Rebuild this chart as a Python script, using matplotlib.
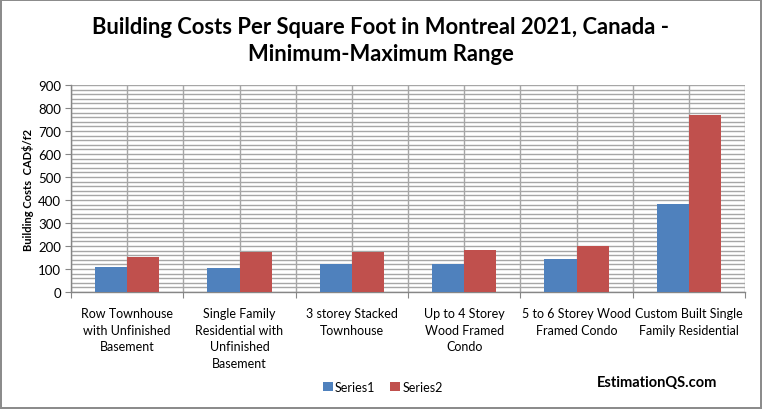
import numpy as np
import matplotlib
matplotlib.use("Agg")
from matplotlib import pyplot as plt

plt.rcParams['font.family'] = ['Lato', 'DejaVu Sans']

categories = ["Row Townhouse\nwith Unfinished\nBasement",
              "Single Family\nResidential with\nUnfinished\nBasement",
              "3 storey Stacked\nTownhouse",
              "Up to 4 Storey\nWood Framed\nCondo",
              "5 to 6 Storey Wood\nFramed Condo",
              "Custom Built Single\nFamily Residential"]
series1 = [110, 105, 122, 122, 145, 382]
series2 = [153, 175, 175, 182, 198, 770]
series_names = ["Series1", "Series2"]
colors = ["#4F81BD", "#C0504D"]
yticks = np.arange(0, 901, 100)

fig = plt.figure(figsize=(7.62, 4.10), dpi=100)
fig.patch.set_edgecolor("#8c8c8c")
fig.patch.set_linewidth(1.5)
ax = fig.add_axes([71/762, 1-293/410, (745-71)/762, (293-86)/410])

xpos = np.arange(len(categories))
w = 0.285
ax.bar(xpos - w/2, series1, w, color=colors[0], label=series_names[0], zorder=3)
ax.bar(xpos + w/2, series2, w, color=colors[1], label=series_names[1], zorder=3)

ax.set_xlim(-0.5, len(categories) - 0.5)
ax.set_ylim(0, 900)
ax.set_yticks(yticks)
ax.set_yticks(np.arange(0, 901, 20), minor=True)
ax.set_xticks(np.arange(-0.5, len(categories), 1.0))
ax.set_xticklabels([])
ax.set_xticks(xpos, minor=True)
ax.set_xticklabels(categories, minor=True, fontsize=9, linespacing=1.45, va="top")

# gridlines every half category and every 20 units
ax.grid(True, which="both", color="#a6a6a6", linewidth=1, zorder=0)
ax.tick_params(axis="x", which="major", length=4, color="#868686", direction="out")
ax.tick_params(axis="x", which="minor", length=0, pad=11)
ax.tick_params(axis="y", which="major", length=4, color="#868686", labelsize=9.5, pad=3)
ax.tick_params(axis="y", which="minor", length=0)
for s in ["top", "right"]:
    ax.spines[s].set_visible(False)
for s in ["left", "bottom"]:
    ax.spines[s].set_color("#868686")
    ax.spines[s].set_linewidth(1)
ax.set_axisbelow(True)

ax.set_ylabel("Building Costs  CAD$/f2", fontsize=8, fontweight="bold", labelpad=3)

fig.text(0.5, 1-41/410, "Building Costs Per Square Foot in Montreal 2021, Canada -\nMinimum-Maximum Range",
         ha="center", va="center", fontsize=15.8, fontweight="bold", linespacing=1.3)

fig.legend(loc="center", bbox_to_anchor=(383/762, 1-388/410), ncol=2, frameon=False,
           fontsize=9, handlelength=0.8, handleheight=0.8, handletextpad=0.2, columnspacing=1.2)

fig.text(657/762, 1-383/410, "EstimationQS.com", ha="center", va="center",
         fontsize=10.5, fontweight="bold")

fig.savefig("out.png", dpi=100, edgecolor=fig.get_edgecolor())
